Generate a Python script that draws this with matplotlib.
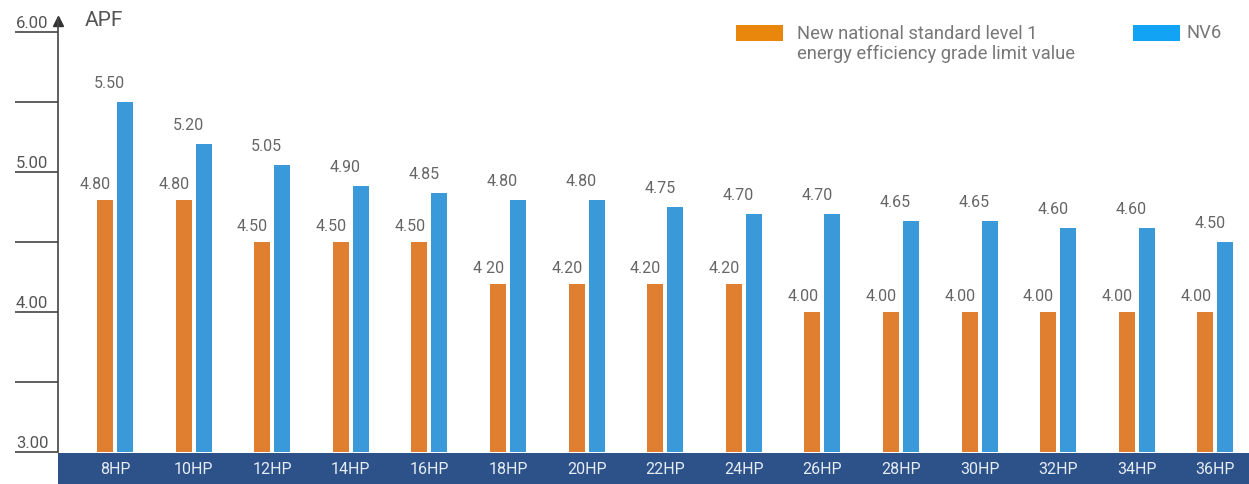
import matplotlib
matplotlib.use("Agg")
from matplotlib import pyplot as plt
from matplotlib.patches import Rectangle
from matplotlib.transforms import blended_transform_factory
import numpy as np

plt.rcParams['font.family'] = ['Roboto', 'DejaVu Sans']

categories = ["8HP", "10HP", "12HP", "14HP", "16HP", "18HP", "20HP", "22HP",
              "24HP", "26HP", "28HP", "30HP", "32HP", "34HP", "36HP"]
standard = [4.80, 4.80, 4.50, 4.50, 4.50, 4.20, 4.20, 4.20,
            4.20, 4.00, 4.00, 4.00, 4.00, 4.00, 4.00]
nv6 = [5.50, 5.20, 5.05, 4.90, 4.85, 4.80, 4.80, 4.75,
       4.70, 4.70, 4.65, 4.65, 4.60, 4.60, 4.50]
std_labels = ["4.80", "4.80", "4.50", "4.50", "4.50", "4 20", "4.20", "4.20",
              "4.20", "4.00", "4.00", "4.00", "4.00", "4.00", "4.00"]
yticks_major = [3.0, 4.0, 5.0, 6.0]
yticks_minor = [3.5, 4.5, 5.5]

W, H = 1249, 484
fig = plt.figure(figsize=(W / 100, H / 100), dpi=100)

# axes in pixel terms: left 58, right 1249, bottom 452, top 18
ax = fig.add_axes([58 / W, 1 - 452 / H, (W - 58) / W, (452 - 18) / H])
ymax = 3 + (452 - 18) / 140
ax.set_ylim(3, ymax)
step = 78.6
ax.set_xlim(-(115 - 58) / step, (W - 115) / step)

x = np.arange(len(categories))
orange = "#E07F30"
blue = "#3A9AD9"
bw = 16 / step
off = 10 / step
ax.bar(x - off, [v - 3 for v in standard], bottom=3, width=bw, color=orange)
ax.bar(x + off, [v - 3 for v in nv6], bottom=3, width=bw, color=blue)

for i in x:
    ax.annotate(std_labels[i], (i - 0.25, standard[i]), xytext=(0, 6),
                textcoords="offset points", ha="center", va="bottom",
                fontsize=11.5, color="#666666")
    ax.annotate(f"{nv6[i]:.2f}", (i - 0.07, nv6[i]), xytext=(0, 8),
                textcoords="offset points", ha="center", va="bottom",
                fontsize=11.5, color="#666666")

for s in ["top", "right", "bottom"]:
    ax.spines[s].set_visible(False)
ax.spines["left"].set_color("#444444")
ax.spines["left"].set_linewidth(1.2)

ax.set_xticks([])
ax.set_yticks(yticks_major + yticks_minor)
ax.set_yticklabels([])
ax.tick_params(axis="y", length=43 * 0.72, width=1.2, color="#444444", direction="out")

tr = blended_transform_factory(fig.transFigure, ax.transData)
for v in yticks_major:
    ax.text(16 / W, v + 0.01, f"{v:.2f}", transform=tr, ha="left", va="bottom",
            fontsize=12, color="#555555")

# arrow at top of y axis
ax.plot([0], [ymax - 0.02], marker="^", markersize=7, color="#333333",
        clip_on=False, transform=blended_transform_factory(ax.transAxes, ax.transData))
fig.text(85 / W, 1 - 21 / H, "APF", fontsize=15, color="#555555", va="center", ha="left")

# bottom band with category labels
fig.add_artist(Rectangle((58 / W, 0), (W - 58) / W, (H - 453) / H,
                         transform=fig.transFigure, color="#2D5289", lw=0))
trb = blended_transform_factory(ax.transData, fig.transFigure)
for i, c in enumerate(categories):
    fig.text(i, 1 - 469 / H, c, transform=trb, ha="center", va="center",
             fontsize=11.5, color="#E6ECF4")

# legend
fig.add_artist(Rectangle((736 / W, 1 - 41 / H), 47 / W, 16 / H,
                         transform=fig.transFigure, color="#E8870C", lw=0))
fig.add_artist(Rectangle((1133 / W, 1 - 41 / H), 47 / W, 16 / H,
                         transform=fig.transFigure, color="#12A3F5", lw=0))
fig.text(797 / W, 1 - 44 / H,
         "New national standard level 1\nenergy efficiency grade limit value",
         fontsize=13.2, color="#777777", ha="left", va="center", linespacing=1.2)
fig.text(1187 / W, 1 - 33 / H, "NV6", fontsize=13.2, color="#777777", ha="left", va="center")

fig.savefig("out.png", dpi=100)
